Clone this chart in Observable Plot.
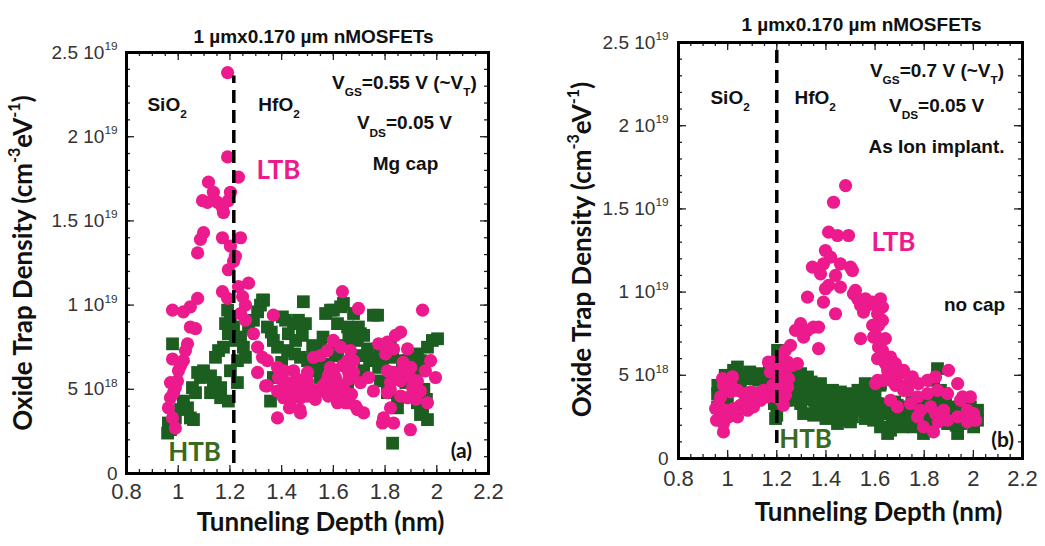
<!DOCTYPE html>
<html>
<head>
<meta charset="utf-8">
<script src="https://cdn.jsdelivr.net/npm/d3@7"></script>
<script src="https://cdn.jsdelivr.net/npm/@observablehq/plot@0.6"></script>
<style>
  body { margin: 0; background: #fff; }
  #wrap { position: relative; width: 1045px; height: 546px; overflow: hidden; background: #fff; }
  #wrap > svg { position: absolute; top: 0; }
</style>
</head>
<body>
<div id="wrap"></div>
<script>
// Trap density in units of 1e18 cm^-3 eV^-1, tunneling depth in nm.

// (a) Mg cap, VGS = 0.55 V
const ltbA_x = [
  1.191,1.191,1.233,1.117,1.136,1.094,1.113,1.152,1.171,1.175,
  1.202,1.194,1.098,1.086,1.075,1.171,1.241,1.202,1.221,1.214,
  1.194,0.978,1.020,1.047,1.075,1.047,1.067,1.036,0.978,1.020,
  1.001,0.997,0.989,0.982,0.970,0.962,0.978,0.989,1.171,1.191,
  1.233,1.272,1.249,1.260,1.241,1.260,1.291,1.307,1.326,1.368,
  1.345,1.384,1.388,1.338,1.384,1.423,1.407,1.434,1.473,1.384,
  1.473,1.500,1.523,1.550,1.446,1.500,1.434,1.473,1.550,1.589,
  1.600,1.655,1.678,1.705,1.616,1.655,1.693,1.717,1.635,1.697,
  1.945,1.860,1.600,1.577,1.628,1.666,1.775,1.809,1.833,1.887,
  1.802,1.678,1.589,1.635,1.659,1.608,1.570,1.600,1.581,1.639,
  1.736,1.755,1.809,1.833,1.867,1.821,1.860,1.898,1.906,1.925,
  1.956,1.976,1.995,1.937,1.887,1.809,1.647,1.686,1.794,1.833,
  1.790,1.821,1.898,1.964,1.840,0.970,1.009,1.307,1.345,1.028,
  1.400,1.420,1.440,1.450,1.460,1.480,1.500,1.520,1.530,1.560,
  1.580,1.620,1.640,1.660,1.670,1.410,1.430,1.470,1.820,1.840,
  1.860,1.870,1.900,1.920
];
const ltbA_y = [
  23.8,18.8,17.6,17.3,16.7,16.2,16.1,16.1,15.8,15.5,
  16.7,16.2,14.3,13.9,13.1,14.0,14.0,13.5,12.9,12.6,
  12.1,9.7,9.6,9.9,10.4,8.7,8.6,7.7,6.8,6.7,
  6.1,5.5,5.1,4.8,4.5,3.9,3.3,2.7,10.8,10.4,
  11.1,11.3,10.5,10.0,9.5,9.1,8.3,7.5,6.9,9.4,
  6.7,6.3,5.7,5.2,4.9,5.4,4.5,4.3,4.5,3.3,
  3.6,5.5,6.9,7.0,6.1,6.0,4.6,4.9,4.9,5.4,
  6.1,6.7,6.0,5.4,4.2,4.2,3.8,3.6,10.8,9.8,
  9.7,8.4,7.9,7.3,7.5,7.3,7.7,7.8,7.4,7.4,
  7.1,6.7,6.3,6.4,6.0,5.7,5.4,4.9,4.6,4.5,
  5.7,4.9,6.1,6.0,6.1,5.4,5.5,5.7,5.1,5.5,
  6.1,6.7,5.7,4.9,4.5,4.8,4.2,4.0,3.3,3.0,
  3.0,3.9,2.6,4.2,8.2,5.4,6.4,6.0,5.2,7.3,
  5.0,4.8,5.2,4.7,5.6,5.1,4.6,5.0,4.4,5.2,
  5.8,5.3,5.0,5.6,4.7,6.1,3.9,3.8,5.0,5.9,
  4.6,6.6,6.3,4.4
];
const htbA_x = [
  0.978,0.970,0.962,0.989,1.009,1.036,1.020,1.047,1.059,1.067,
  1.055,1.086,1.075,1.098,1.125,1.144,1.164,1.125,1.144,1.156,
  1.175,1.183,1.202,1.191,1.194,1.221,1.241,1.252,1.229,1.202,
  1.229,1.260,1.272,1.291,1.307,1.318,1.330,1.345,1.368,1.384,
  1.415,1.426,1.446,1.465,1.484,1.492,1.454,1.423,1.473,1.500,
  1.523,1.539,1.357,1.368,1.519,1.194,1.164,1.136,1.600,1.639,
  1.678,1.755,1.616,1.655,1.697,1.717,1.550,1.693,1.732,1.678,
  1.751,1.717,1.775,1.790,1.829,1.867,1.890,1.925,1.937,1.983,
  2.003,1.964,1.898,1.782,1.809,1.848,1.848,1.925,1.945,1.964,
  1.937,1.829,1.608,1.550,1.655,1.403,1.570,1.589,1.628,1.705,
  1.771,1.616,1.512,0.959,1.214,1.326,
  1.520,1.560,1.580,1.620,1.660,1.700,1.740,1.780,1.820,1.860,
  1.880,1.920,1.950,1.960,1.450,1.480,1.400,1.360
];
const htbA_y = [
  7.7,2.6,3.0,3.3,3.8,3.9,4.3,3.3,3.2,4.8,
  5.1,5.7,6.0,6.1,5.8,5.4,5.1,4.8,6.9,7.3,
  7.5,8.9,9.3,9.7,8.3,7.9,8.1,7.5,6.7,6.1,
  5.4,6.9,8.7,9.1,9.6,10.0,10.3,8.7,7.9,7.5,
  9.1,8.3,8.9,9.1,10.2,8.9,7.9,7.3,6.9,6.7,
  6.9,6.3,4.3,5.7,6.1,4.3,4.5,5.4,9.7,10.1,
  9.5,9.4,8.9,8.7,8.7,8.2,7.4,7.9,7.4,6.8,
  6.7,6.1,6.3,6.7,6.9,6.7,6.7,7.1,6.7,7.9,
  8.0,7.5,6.5,5.5,4.8,4.5,3.9,4.2,3.6,3.2,
  3.5,1.8,7.0,5.7,5.1,9.3,9.5,9.7,9.9,8.3,
  9.4,7.0,6.1,2.4,8.7,10.3,
  7.6,8.1,6.5,7.6,8.0,7.0,6.8,7.3,7.7,6.0,
  5.4,6.1,5.0,4.4,7.1,8.2,6.6,8.4
];

// (b) no cap, As ion implant, VGS = 0.7 V
const ltbB_x = [
  1.480,1.431,1.411,1.447,1.492,1.398,1.419,1.345,1.459,1.500,
  1.390,1.508,1.378,1.439,1.411,1.459,1.398,1.325,1.390,1.512,
  1.529,1.561,1.569,1.541,1.594,1.630,1.610,1.439,1.630,1.541,
  1.590,1.594,1.622,1.630,1.297,1.276,1.325,1.349,1.370,1.309,
  1.370,1.256,1.235,1.215,1.244,1.264,1.235,1.223,1.248,1.244,
  1.227,1.183,1.174,1.642,1.651,1.663,1.634,1.691,1.704,1.732,
  1.610,1.663,1.284,1.203,1.215,1.235,0.979,1.020,0.983,1.012,
  1.040,1.065,1.093,1.122,1.146,1.162,1.134,1.105,1.081,1.052,
  1.024,0.999,0.971,0.983,1.004,0.983,0.963,0.971,1.183,1.195,
  1.207,1.215,1.227,1.040,1.081,1.166,1.520,1.590,1.622,1.553,
  1.614,1.602,1.642,1.614,1.610,1.663,1.642,1.683,1.675,1.716,
  1.655,1.752,1.736,1.683,1.716,1.777,1.813,1.846,1.899,1.936,
  1.854,1.895,1.813,1.773,1.744,1.785,1.826,1.846,1.879,1.858,
  1.895,1.936,1.956,1.988,1.976,2.001,2.009,1.976,1.797,1.838,
  1.691,1.773,1.602,1.948,1.012,1.105,0.951,0.955
];
const ltbB_y = [
  16.4,15.4,13.6,13.4,13.4,12.5,12.1,11.5,11.7,11.5,
  11.7,11.3,11.1,11.0,10.4,10.3,10.2,9.7,9.4,9.9,
  9.6,9.6,9.2,9.2,9.3,9.1,8.7,8.7,8.3,7.2,
  8.0,7.3,7.1,6.5,8.1,7.7,7.7,7.9,7.9,7.3,
  6.6,6.8,6.5,6.1,5.8,5.6,5.3,4.9,4.8,4.3,
  3.7,5.8,5.2,5.9,5.3,4.7,4.7,4.5,5.1,4.1,
  4.7,3.5,5.7,5.5,4.4,3.8,4.8,4.9,4.4,4.0,
  4.1,3.9,4.0,3.9,4.1,3.7,3.5,3.4,3.3,3.2,
  3.0,2.9,2.7,2.1,2.5,1.6,3.3,3.7,4.4,3.7,
  4.9,3.5,3.2,2.5,2.9,5.8,10.1,9.4,9.6,8.8,
  8.0,7.4,7.2,6.7,6.0,6.1,5.7,5.7,5.3,5.3,
  4.9,4.9,4.5,4.4,4.1,4.5,4.7,4.9,5.3,4.5,
  4.1,3.9,3.9,3.7,3.3,2.9,3.1,2.7,2.9,2.2,
  2.3,2.5,3.7,3.7,2.9,2.7,2.3,2.2,1.9,1.6,
  3.1,2.5,4.5,3.5,4.5,3.1,3.0,2.3
];
const htbB_x = [
  0.959,0.959,1.024,1.032,1.081,1.101,1.126,1.154,1.183,1.166,
  1.195,1.203,1.264,1.297,1.325,1.284,1.309,1.268,1.297,1.337,
  1.366,1.390,1.427,1.459,1.488,1.512,1.358,1.390,1.431,1.472,
  1.508,1.529,1.325,0.971,1.052,1.256,1.309,1.447,1.541,1.569,
  1.594,1.610,1.594,1.622,1.634,1.663,1.622,1.691,1.732,1.773,
  1.797,1.813,1.854,1.838,1.866,1.854,1.895,1.936,1.948,1.976,
  1.988,2.001,2.017,1.756,1.500,1.651,1.716,1.907,1.915,1.980,
  2.017,0.991,1.134,1.215,1.235,1.378,1.581,1.683,1.744,1.663,
  1.887,1.805,1.419,1.235,0.999,
  1.28,1.30,1.32,1.35,1.35,1.38,1.40,1.40,1.42,1.44,
  1.45,1.47,1.48,1.50,1.50,1.52,1.55,1.56,1.57,1.58,
  1.60,1.61,1.63,1.65,1.67,1.68,1.70,1.71,1.72,1.74,
  1.76,1.78,1.79,1.80,1.82,1.83,1.84,1.86,1.87,1.88,
  1.90,1.92,1.93,1.95,1.96,1.99,2.00,1.25,1.27,1.30,
  1.31,1.34,1.36,1.43,1.46,1.53,1.56,1.62,1.69,1.75,
  0.96,0.99,1.00,1.04,1.07,1.09,1.12,1.14,1.17,1.19,
  1.20,1.21
];
const htbB_y = [
  3.9,3.1,5.3,4.7,4.8,5.0,4.7,4.6,5.1,4.3,
  2.4,6.5,5.1,5.1,4.9,4.3,4.1,3.5,3.3,3.7,
  4.1,3.9,4.1,4.0,3.9,3.7,3.3,3.1,2.9,2.7,
  2.5,2.9,4.4,3.5,4.4,4.7,2.7,2.1,3.3,2.7,
  2.3,3.3,4.1,4.5,2.7,1.7,1.9,2.3,2.3,2.5,
  1.5,2.5,5.4,4.7,4.1,2.7,2.1,1.5,2.1,2.5,
  3.1,1.9,2.3,1.9,3.7,1.5,2.5,2.9,2.1,2.5,
  2.9,4.1,3.9,4.4,4.8,4.5,3.5,2.9,2.9,3.0,
  3.5,3.2,3.4,3.5,3.5,
  4.5,3.8,4.3,3.5,2.6,3.6,3.0,2.4,3.5,2.6,
  3.3,2.3,3.1,2.8,2.2,3.1,3.6,2.4,3.9,2.9,
  3.8,2.5,3.2,3.0,2.2,3.4,2.6,1.9,3.1,2.3,
  2.6,3.0,2.2,3.6,2.9,3.8,2.3,3.3,2.5,3.9,
  2.6,3.1,2.0,2.8,2.3,2.5,2.2,5.4,4.0,4.6,
  3.6,4.6,4.2,3.0,3.6,4.1,4.5,4.4,3.2,3.4,
  4.4,5.0,2.6,5.5,4.9,5.2,5.1,5.0,5.6,3.3,
  2.6,5.6
];

// SiO2 / HfO2 interface depth for each device
const interfaceA = 1.215;
const interfaceB = 1.2;

// Axis ticks and labels
const xTicks = [0.8, 1, 1.2, 1.4, 1.6, 1.8, 2, 2.2];
const yTicks = [0, 5, 10, 15, 20, 25];
const yTickLabels = ["0", "5 10^{18}", "1 10^{19}", "1.5 10^{19}", "2 10^{19}", "2.5 10^{19}"];
const xMinor = d3.range(0.8, 2.2001, 0.05);
const yMinor = d3.range(0, 25.001, 1);

const titleText = "1 \u00b5mx0.170 \u00b5m nMOSFETs";
const xLabel = "Tunneling Depth (nm)";
const yLabel = "Oxide Trap Density (cm^{-3}eV^{-1})";

const PINK = "#ec1a8c";
const GREEN = "#1b5e20";
const GREEN_TEXT = "#3a6b1c";
const TICK_FONT = "'Liberation Sans Narrow', 'Arial Narrow', 'Liberation Sans', Arial, sans-serif";
const TEXT_FONT = "'Liberation Sans', Arial, sans-serif";
const LABEL_FONT = "Lato, 'Open Sans', sans-serif";

const yLabelOf = new Map(yTicks.map((t, i) => [t, yTickLabels[i]]));
const toPoints = (xs, ys) => xs.map((x, i) => ({x, y: ys[i]}));

function panel(cfg) {
  const ph = 546 - cfg.mt - cfg.mb;
  const pw = cfg.width - cfg.ml - cfg.mr;
  const major = 8, minor = 4;
  const tickStyle = {stroke: "#222", strokeWidth: 1.3};
  return Plot.plot({
    width: cfg.width,
    height: 546,
    marginLeft: cfg.ml, marginRight: cfg.mr, marginTop: cfg.mt, marginBottom: cfg.mb,
    x: {domain: [0.8, 2.2]},
    y: {domain: [0, 25]},
    style: {fontFamily: TEXT_FONT, fontSize: "19px", background: "transparent", overflow: "visible", color: "#111"},
    marks: [
      // inward ticks on all four sides
      Plot.tickX(xTicks, {x: d => d, insetTop: ph - major, ...tickStyle}),
      Plot.tickX(xMinor, {x: d => d, insetTop: ph - minor, ...tickStyle}),
      Plot.tickX(xTicks, {x: d => d, insetBottom: ph - major, ...tickStyle}),
      Plot.tickX(xMinor, {x: d => d, insetBottom: ph - minor, ...tickStyle}),
      Plot.tickY(yTicks, {y: d => d, insetRight: pw - major, ...tickStyle}),
      Plot.tickY(yMinor, {y: d => d, insetRight: pw - minor, ...tickStyle}),
      Plot.tickY(yTicks, {y: d => d, insetLeft: pw - major, ...tickStyle}),
      Plot.tickY(yMinor, {y: d => d, insetLeft: pw - minor, ...tickStyle}),

      Plot.dot(toPoints(cfg.htbX, cfg.htbY), {x: "x", y: "y", symbol: "square", r: 7.2, fill: GREEN}),
      Plot.dot(toPoints(cfg.ltbX, cfg.ltbY), {x: "x", y: "y", r: 6.6, fill: PINK}),

      Plot.ruleX([cfg.iface], {y1: cfg.dash[0], y2: cfg.dash[1], stroke: "#000", strokeWidth: 3.5, strokeDasharray: "13,7"}),

      Plot.frame({stroke: "#000", strokeWidth: 3}),

      Plot.axisX({ticks: xTicks, tickSize: 0, tickPadding: cfg.xPad, tickFormat: d => String(d),
        fontSize: 22, fontFamily: TICK_FONT, fill: "#333", label: null}),
      Plot.axisY({ticks: yTicks, tickSize: 0, tickPadding: cfg.yPad, tickFormat: d => yLabelOf.get(d),
        fontSize: 19, fontFamily: TICK_FONT, fill: "#333", label: null}),

      // titles and axis labels
      Plot.text([titleText], {frameAnchor: "top", dx: cfg.title[0], dy: cfg.title[1],
        fontSize: 19, fontWeight: "bold", fontFamily: TEXT_FONT, fill: "#111"}),
      Plot.text([xLabel], {frameAnchor: "bottom", textAnchor: "middle", dx: cfg.xlab[0], dy: cfg.xlab[1],
        fontSize: 26, fontWeight: "bold", fontFamily: LABEL_FONT, fill: "#111"}),
      Plot.text([yLabel], {frameAnchor: "left", textAnchor: "middle", dx: cfg.ylab[0], dy: cfg.ylab[1], rotate: -90,
        fontSize: 26, fontWeight: "bold", fontFamily: LABEL_FONT, fill: "#111"}),

      // annotations
      ...cfg.notes.map(n => Plot.text([n.text], {x: n.x, y: n.y, textAnchor: n.anchor ?? "middle",
        fontSize: n.size ?? 19, fontWeight: "bold", fontFamily: n.font ?? TEXT_FONT, fill: n.fill ?? "#111"}))
    ]
  });
}

// Rewrites "_{..}" and "^{..}" inside SVG text as lowered / raised tspans.
function richText(svg) {
  d3.select(svg).selectAll("text").each(function () {
    const s = this.textContent;
    if (!/[_^]\{/.test(s)) return;
    const fs = parseFloat(getComputedStyle(this).fontSize) || 16;
    const el = d3.select(this).text(null);
    const re = /([_^])\{([^}]*)\}|([^_^]+)/g;
    let m, cur = 0;
    while ((m = re.exec(s))) {
      const isScript = !!m[1];
      const shift = isScript ? (m[1] === "_" ? 0.4 * fs : -0.45 * fs) : 0;
      const t = el.append("tspan").text(isScript ? m[2] : m[3]).attr("dy", shift - cur);
      if (isScript) t.attr("font-size", (0.62 * fs).toFixed(1));
      cur = shift;
    }
  });
}

const panelA = panel({
  width: 520, ml: 126, mr: 32, mt: 52, mb: 73,
  ltbX: ltbA_x, ltbY: ltbA_y, htbX: htbA_x, htbY: htbA_y,
  iface: interfaceA, dash: [0.6, 23.6],
  xPad: 10, yPad: 9,
  title: [6, -23], xlab: [13, 57], ylab: [-103, 0],
  notes: [
    {text: "SiO_{2}", x: 0.881, y: 21.9, anchor: "start"},
    {text: "HfO_{2}", x: 1.310, y: 21.9, anchor: "start"},
    {text: "V_{GS}=0.55 V (~V_{T})", x: 1.875, y: 23.2},
    {text: "V_{DS}=0.05 V", x: 1.875, y: 20.8},
    {text: "Mg cap", x: 1.879, y: 18.4},
    {text: "LTB", x: 1.388, y: 18.0, size: 26, font: LABEL_FONT, fill: PINK},
    {text: "HTB", x: 1.063, y: 1.25, size: 26, font: LABEL_FONT, fill: GREEN_TEXT},
    {text: "(a)", x: 2.095, y: 1.3, size: 21, font: LABEL_FONT}
  ]
});

const panelB = panel({
  width: 525, ml: 158, mr: 23, mt: 42, mb: 88,
  ltbX: ltbB_x, ltbY: ltbB_y, htbX: htbB_x, htbY: htbB_y,
  iface: interfaceB, dash: [0.9, 25],
  xPad: 12, yPad: 10,
  title: [11, -25], xlab: [28, 62], ylab: [-96, -1],
  notes: [
    {text: "SiO_{2}", x: 0.930, y: 21.7, anchor: "start"},
    {text: "HfO_{2}", x: 1.272, y: 21.7, anchor: "start"},
    {text: "V_{GS}=0.7 V (~V_{T})", x: 1.852, y: 23.3},
    {text: "V_{DS}=0.05 V", x: 1.850, y: 21.2},
    {text: "As Ion implant.", x: 1.850, y: 18.7},
    {text: "no cap", x: 2.005, y: 9.25},
    {text: "LTB", x: 1.675, y: 13.0, size: 26, font: LABEL_FONT, fill: PINK},
    {text: "HTB", x: 1.317, y: 1.15, size: 26, font: LABEL_FONT, fill: GREEN_TEXT},
    {text: "(b)", x: 2.119, y: 1.1, size: 21, font: LABEL_FONT}
  ]
});

const wrap = document.getElementById("wrap");
panelA.style.left = "0px";
panelB.style.left = "520px";
wrap.appendChild(panelA);
wrap.appendChild(panelB);
richText(panelA);
richText(panelB);
</script>
</body>
</html>
